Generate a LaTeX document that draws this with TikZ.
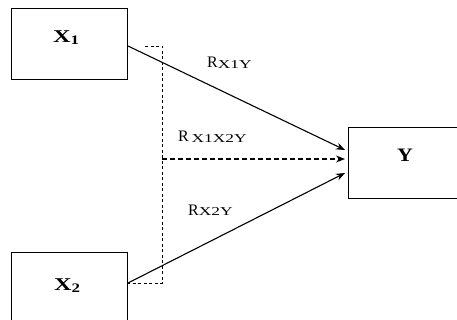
\documentclass[tikz,border=0pt]{standalone}
\usepackage{fontspec}
\setmainfont{Liberation Serif}
\usetikzlibrary{arrows.meta}
\newcommand{\rsub}[1]{\raisebox{-0.5pt}{\fontsize{12}{12}\selectfont\scalebox{1.45}[1]{#1}}}
\newcommand{\bsub}[1]{\raisebox{-2pt}{\fontsize{13}{13}\selectfont\scalebox{1.3}[1]{#1}}}
\begin{document}
\begin{tikzpicture}[x=1pt,y=-1pt,
  box/.style={draw,line width=1.4pt,minimum width=116pt,minimum height=71pt,inner sep=0pt,anchor=north west},
  conn/.style={line width=1.1pt,-{Stealth[length=9pt,width=7pt]}},
  bracket/.style={line width=0.7pt,dash pattern=on 3pt off 2.5pt},
  lbl/.style={font=\fontsize{16}{16}\selectfont,inner sep=0pt,anchor=base west},
  blbl/.style={font=\bfseries\fontsize{18}{18}\selectfont,inner sep=0pt,anchor=base west}]
\useasboundingbox (0,0) rectangle (457,320);
\begin{scope}
\clip (0,0) rectangle (457,320);
\node[box] (x1) at (11,8) {};
\node[box] (x2) at (11,252) {};
\node[box,minimum width=112pt] (y) at (348,127) {};
\end{scope}
\node[blbl] (x1t) at (53,43) {\scalebox{1.35}[1]{X}\bsub{1}};
\node[blbl] (x2t) at (54,290) {\scalebox{1.35}[1]{X}\bsub{2}};
\node[blbl,font=\bfseries\fontsize{19}{19}\selectfont] (yt) at (397,162) {\scalebox{1.15}[1]{Y}};
\coordinate (a1) at (128,46);
\coordinate (a2) at (128,283);
\coordinate (t1) at (345,150);
\coordinate (t2) at (345,173);
\coordinate (t0) at (345,159);
\coordinate (b0) at (162,159);
\coordinate (btop) at (162,46);
\coordinate (bbot) at (162,283);
\coordinate (btopl) at (145,46);
\draw[conn] (a1) -- (t1);
\draw[conn] (a2) -- (t2);
\draw[conn,dash pattern=on 5pt off 3pt] (b0) -- (t0);
\draw[bracket] (btopl) -- (btop) -- (bbot) -- (a2);
\node[lbl] (l1) at (207,68) {R\rsub{X1Y}};
\node[lbl] (l2) at (178,142) {R\,\rsub{X1X2Y}};
\node[lbl] (l3) at (188,215) {R\rsub{X2Y}};
\end{tikzpicture}
\end{document}
